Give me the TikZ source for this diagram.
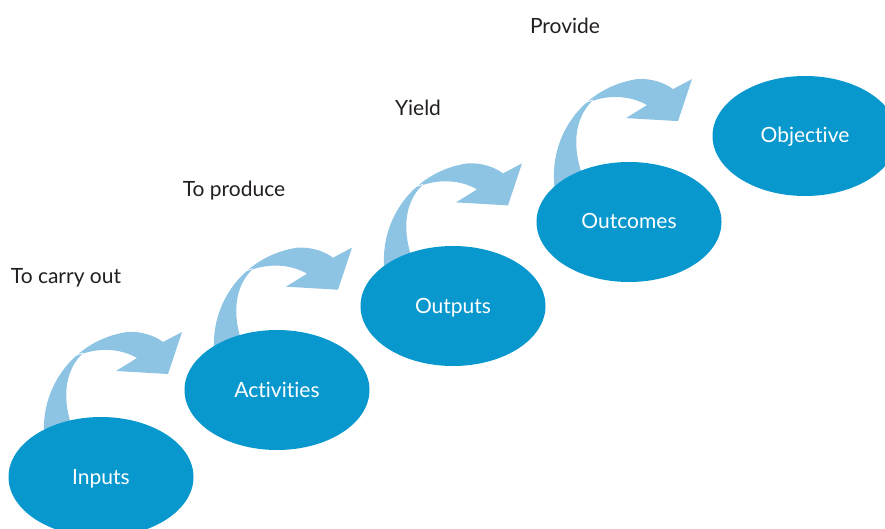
\documentclass[tikz,border=0pt]{standalone}
\usepackage{fontspec}
\setmainfont{Lato}[Ligatures=NoCommon]
\usetikzlibrary{shapes.geometric}
\definecolor{stepblue}{RGB}{8,152,206}
\definecolor{arrowblue}{RGB}{141,195,227}
\definecolor{textgray}{RGB}{35,31,32}
\tikzstyle{stepellipse}=[ellipse, fill=stepblue, text=white, minimum width=185pt, minimum height=120pt, inner sep=0pt, text height=14pt, text depth=0pt, font=\fontsize{21}{24}\selectfont]
\tikzstyle{steplabel}=[text=textgray, text height=14pt, text depth=0pt, font=\fontsize{21}{24}\selectfont]
% curved arrow, drawn in pixel units and shifted by #1
\newcommand{\curvedarrow}[1]{%
\begin{scope}[shift={#1}]
\fill[arrowblue] (45,455) -- (44,432) .. controls (42,385) and (75,340) .. (127,332) .. controls (142,331) and (155,336) .. (163,342) -- (182,332) -- (168,374) -- (116,371) -- (137,358) .. controls (120,348) and (98,348) .. (82,354) .. controls (64,372) and (62,400) .. (73,430) -- (75,455) -- cycle;
\draw[white, line width=0.8pt] (63,361) .. controls (70,357) and (76,355) .. (83,353);
\end{scope}}

\begin{document}
\begin{tikzpicture}[x=1pt, y=-1pt]
\useasboundingbox (0,0) rectangle (885,529);

\curvedarrow{(0,0)}
\curvedarrow{(170,-84.3)}
\curvedarrow{(340,-168.6)}
\curvedarrow{(510,-252.9)}

\node[stepellipse] (inputs) at (101,477) {Inputs};
\node[stepellipse] (activities) at (277,390) {Activities};
\node[stepellipse] (outputs) at (453,306) {Outputs};
\node[stepellipse] (outcomes) at (629,222) {Outcomes};
\node[stepellipse] (objective) at (805,136) {Objective};

\node[steplabel] (carryout) at (66,276) {To carry out};
\node[steplabel] (produce) at (234,190) {To produce};
\node[steplabel] (yield) at (418,109) {Yield};
\node[steplabel] (provide) at (565,27) {Provide};

\end{tikzpicture}
\end{document}
